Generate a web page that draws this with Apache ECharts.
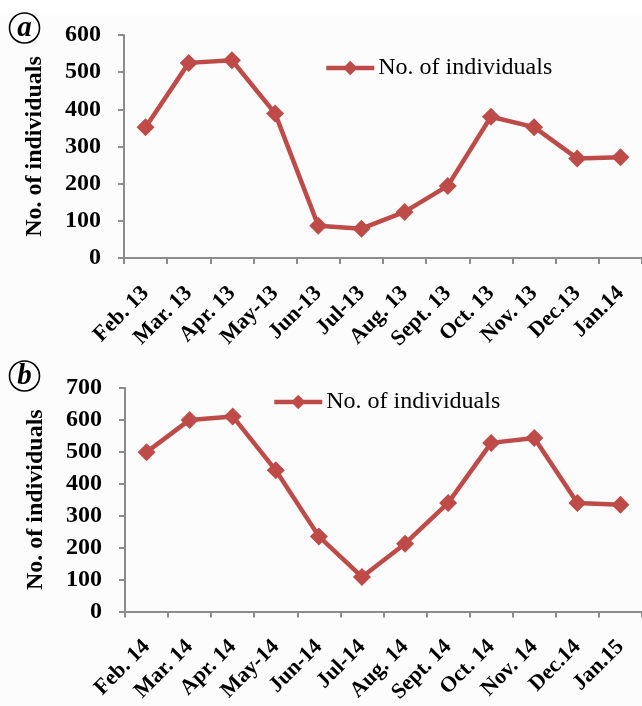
<!DOCTYPE html>
<html>
<head>
<meta charset="utf-8">
<script src="https://cdn.jsdelivr.net/npm/echarts@6/dist/echarts.min.js"></script>
<style>
html,body{margin:0;padding:0;background:#fff;}
#c{width:642px;height:706px;}
</style>
</head>
<body>
<div id="c"></div>
<script>
var seriesName = 'No. of individuals';
var monthsA = ['Feb. 13','Mar. 13','Apr. 13','May-13','Jun-13','Jul-13','Aug. 13','Sept. 13','Oct. 13','Nov. 13','Dec.13','Jan.14'];
var valuesA = [352, 525, 532, 389, 87, 79, 124, 194, 380, 352, 268, 271];
var monthsB = ['Feb. 14','Mar. 14','Apr. 14','May-14','Jun-14','Jul-14','Aug. 14','Sept. 14','Oct. 14','Nov. 14','Dec.14','Jan.15'];
var valuesB = [499, 600, 611, 442, 235, 108, 212, 340, 528, 543, 340, 334];
var ticksA = {min: 0, max: 600, interval: 100};
var ticksB = {min: 0, max: 700, interval: 100};

var RED = '#be4b48';
var AX = '#8c8c8c';
var SERIF = '"Liberation Serif", "DejaVu Serif", serif';

function xAxis(idx, data) {
  return {
    type: 'category', gridIndex: idx, data: data, boundaryGap: true,
    axisLine: {lineStyle: {color: AX, width: 2}},
    axisTick: {show: true, length: 6, lineStyle: {color: AX, width: 2}, alignWithLabel: false},
    axisLabel: {rotate: 45, margin: 32, interval: 0, color: '#000', fontFamily: SERIF, fontWeight: 'bold', fontSize: 22}
  };
}
function yAxis(idx, t) {
  return {
    type: 'value', gridIndex: idx, min: t.min, max: t.max, interval: t.interval,
    name: seriesName, nameLocation: 'middle', nameGap: 77,
    nameTextStyle: {color: '#000', fontFamily: SERIF, fontWeight: 'bold', fontSize: 24},
    splitLine: {show: false},
    axisLine: {show: true, lineStyle: {color: AX, width: 2}},
    axisTick: {show: true, length: 6, lineStyle: {color: AX, width: 2}},
    axisLabel: {margin: 23, color: '#000', fontFamily: SERIF, fontWeight: 'bold', fontSize: 24}
  };
}
function series(idx, vals) {
  return {
    name: seriesName, type: 'line', xAxisIndex: idx, yAxisIndex: idx, data: vals,
    symbol: 'diamond', symbolSize: 18, showSymbol: true,
    lineStyle: {color: RED, width: 4.5}, itemStyle: {color: RED},
    emphasis: {disabled: true}, animation: false
  };
}
function circled(letter, cy) {
  return [
    {type: 'circle', shape: {cx: 24.5, cy: cy, r: 15}, style: {fill: '#fff', stroke: '#000', lineWidth: 1.6}},
    {type: 'text', x: 24.5, y: cy + 1, style: {text: letter, fill: '#000', font: 'italic bold 29px ' + SERIF, textAlign: 'center', textVerticalAlign: 'middle'}}
  ];
}
function legend(left, top) {
  return {data: [seriesName], left: left, top: top, padding: 0, itemWidth: 48, itemHeight: 18, itemGap: 5,
    lineStyle: {width: 4.5}, itemStyle: {},
    textStyle: {color: '#000', fontFamily: SERIF, fontSize: 24, padding: [0, 0, 0, -1]}};
}

var chart = echarts.init(document.getElementById('c'), null, {renderer: 'canvas'});
chart.setOption({
  backgroundColor: '#fcfcfc',
  animation: false,
  graphic: [{type: 'rect', shape: {x: 0, y: 0, width: 642, height: 15}, style: {fill: '#fff'}, z: -10}]
    .concat(circled('a', 28)).concat(circled('b', 376)),
  legend: [legend(324, 56), legend(272, 390)],
  grid: [
    {left: 124, right: 0, top: 35, height: 223},
    {left: 125, right: 0, top: 388, height: 224}
  ],
  xAxis: [xAxis(0, monthsA), xAxis(1, monthsB)],
  yAxis: [yAxis(0, ticksA), yAxis(1, ticksB)],
  series: [series(0, valuesA), series(1, valuesB)]
});
</script>
</body>
</html>
